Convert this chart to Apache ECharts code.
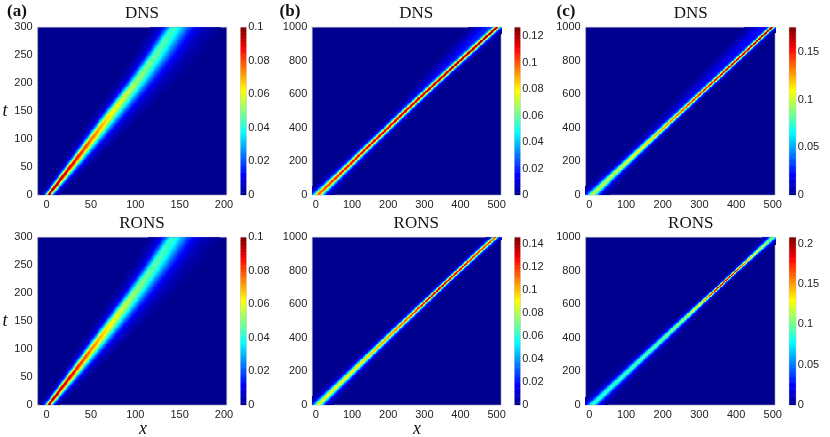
<!DOCTYPE html>
<html>
<head>
<meta charset="utf-8">
<script src="https://cdn.jsdelivr.net/npm/echarts@6/dist/echarts.min.js"></script>
<style>
  html, body { margin: 0; padding: 0; background: #fff; }
  #chart { width: 830px; height: 437px; }
</style>
</head>
<body>
<div id="chart"></div>
<script>
// jet colour map, evenly spaced stops
var jet = ['#00008F', '#0000FF', '#0080FF', '#00FFFF', '#80FF80', '#FFFF00', '#FF8000', '#FF0000', '#800000'];

var timesA = [0, 25, 50, 75, 100, 150, 200, 250, 300];
var timesBC = [0, 100, 200, 300, 400, 500, 600, 700, 800, 900, 1000];

// (a) DNS
var aDnsCenter = [2, 14, 26, 38, 50, 74, 99, 122, 143];
var aDnsPeak = [0.1, 0.097, 0.091, 0.084, 0.077, 0.063, 0.053, 0.047, 0.043];
var aDnsWidthL = [2.0, 2.2, 2.5, 2.8, 3.2, 4.0, 4.8, 5.5, 6.2];
var aDnsWidthR = [2.4, 3.3, 4.3, 5.3, 6.3, 8.3, 10, 11.5, 12.5];
// (a) RONS
var aRonsCenter = [2, 14, 26, 38, 50, 74, 98, 121, 142];
var aRonsPeak = [0.1, 0.096, 0.09, 0.083, 0.075, 0.062, 0.052, 0.046, 0.042];
var aRonsWidthL = [2.0, 2.2, 2.5, 2.9, 3.3, 4.1, 4.9, 5.7, 6.4];
var aRonsWidthR = [2.4, 3.3, 4.3, 5.3, 6.3, 8.3, 10, 11.5, 12.5];

// (b) DNS
var bDnsCenter = [5, 54, 102, 150, 199, 247, 297, 347, 398, 449, 500];
var bDnsPeak = [0.1, 0.108, 0.112, 0.115, 0.117, 0.119, 0.12, 0.121, 0.122, 0.123, 0.124];
var bDnsWidth = [9, 7.5, 6.9, 6.5, 6.2, 6.1, 5.9, 5.8, 5.8, 5.7, 5.7];
var bDnsHaloPeak = [0, 0, 0, 0, 0, 0.002, 0.006, 0.01, 0.013, 0.016, 0.018];
var bDnsHaloShift = [-15, -15, -15, -15, -18, -20, -22, -25, -28, -30, -32];
var bDnsHaloWidth = [8, 8, 8, 8, 9, 10, 11, 12, 13, 14, 15];
// (b) RONS
var bRonsCenter = [5, 53, 101, 149, 197, 246, 295, 344, 394, 444, 495];
var bRonsPeak = [0.09, 0.092, 0.095, 0.1, 0.108, 0.118, 0.13, 0.14, 0.133, 0.125, 0.12];
var bRonsWidth = [9, 8.2, 7.5, 6.9, 6.2, 5.6, 5, 4.6, 4.8, 5.1, 5.3];

// (c) DNS
var cDnsCenter = [7, 55, 104, 153, 202, 251, 300, 350, 399, 448, 497];
var cDnsPeak = [0.1, 0.102, 0.106, 0.115, 0.125, 0.138, 0.148, 0.155, 0.16, 0.166, 0.172];
var cDnsWidth = [10, 8.6, 7.4, 6.4, 5.6, 5, 4.7, 4.5, 4.3, 4.2, 4.2];
var cDnsHaloPeak = [0, 0, 0.003, 0.007, 0.01, 0.013, 0.015, 0.017, 0.019, 0.021, 0.023];
var cDnsHaloShift = [-12, -12, -14, -16, -18, -20, -22, -24, -26, -28, -30];
var cDnsHaloWidth = [7, 7, 8, 9, 10, 11, 12, 13, 14, 14, 15];
// (c) RONS
var cRonsCenter = [7, 56, 105, 154, 203, 252, 301, 351, 400, 450, 500];
var cRonsPeak = [0.088, 0.09, 0.093, 0.097, 0.102, 0.11, 0.135, 0.2, 0.18, 0.13, 0.108];
var cRonsWidth = [10, 9.3, 8.6, 7.9, 7.2, 6.3, 4.8, 3.4, 3.4, 4.8, 6.6];

// colour bar tops and tick labels
var cbarMax = [0.1, 0.1266, 0.176, 0.1, 0.146, 0.208];
var cbarTicksA = [0, 0.02, 0.04, 0.06, 0.08, 0.1];
var cbarTicksB1 = [0, 0.02, 0.04, 0.06, 0.08, 0.1, 0.12];
var cbarTicksC1 = [0, 0.05, 0.1, 0.15];
var cbarTicksB2 = [0, 0.02, 0.04, 0.06, 0.08, 0.1, 0.12, 0.14];
var cbarTicksC2 = [0, 0.05, 0.1, 0.15, 0.2];

// axis tick labels
var xTicksA = [0, 50, 100, 150, 200];
var xTicksBC = [0, 100, 200, 300, 400, 500];
var yTicksA = [0, 50, 100, 150, 200, 250, 300];
var yTicksBC = [0, 200, 400, 600, 800, 1000];

function interp(ts, vs, t) {
    if (t <= ts[0]) return vs[0];
    for (var i = 1; i < ts.length; i++) {
        if (t <= ts[i]) {
            var f = (t - ts[i - 1]) / (ts[i] - ts[i - 1]);
            return vs[i - 1] + f * (vs[i] - vs[i - 1]);
        }
    }
    return vs[vs.length - 1];
}

function sech(z) {
    return 2 / (Math.exp(z) + Math.exp(-z));
}

// grid of cells for one panel, built from the arrays above
function buildCells(p) {
    var cells = [];
    var nt = Math.round(p.tMax / p.dt);
    var nx = Math.round((p.xMax - p.xMin) / p.dx);
    for (var j = 0; j <= nt; j++) {
        var t = j * p.dt;
        var c = interp(p.times, p.center, t);
        var a = interp(p.times, p.peak, t);
        var wl = interp(p.times, p.widthL, t);
        var wr = interp(p.times, p.widthR, t);
        var ha = p.haloPeak ? interp(p.times, p.haloPeak, t) : 0;
        var hs = p.haloPeak ? interp(p.times, p.haloShift, t) : 0;
        var hw = p.haloPeak ? interp(p.times, p.haloWidth, t) : 1;
        for (var i = 0; i <= nx; i++) {
            var x = p.xMin + i * p.dx;
            var d = x - c;
            var v = a * sech(d / (d < 0 ? wl : wr));
            if (ha > 0) v += ha * sech((d - hs) / hw);
            if (v > p.vMax * 0.012) cells.push([x, t, Math.min(v, p.vMax)]);
        }
    }
    return cells;
}

var plotH = 167.7;
var panels = [
    { title: 'DNS', times: timesA, center: aDnsCenter, peak: aDnsPeak, widthL: aDnsWidthL, widthR: aDnsWidthR,
      xMin: -10, xMax: 203, tMax: 300, dx: 1, dt: 1.5, vMax: cbarMax[0], cTicks: cbarTicksA,
      xTicks: xTicksA, yTicks: yTicksA, left: 37.7, width: 189, top: 27.3, cbLeft: 240.7, cbWidth: 5.5 },
    { title: 'DNS', times: timesBC, center: bDnsCenter, peak: bDnsPeak, widthL: bDnsWidth, widthR: bDnsWidth,
      haloPeak: bDnsHaloPeak, haloShift: bDnsHaloShift, haloWidth: bDnsHaloWidth,
      xMin: -10, xMax: 512, tMax: 1000, dx: 2, dt: 5, vMax: cbarMax[1], cTicks: cbarTicksB1,
      xTicks: xTicksBC, yTicks: yTicksBC, left: 312.3, width: 188.7, top: 27.3, cbLeft: 514.7, cbWidth: 5.5 },
    { title: 'DNS', times: timesBC, center: cDnsCenter, peak: cDnsPeak, widthL: cDnsWidth, widthR: cDnsWidth,
      haloPeak: cDnsHaloPeak, haloShift: cDnsHaloShift, haloWidth: cDnsHaloWidth,
      xMin: -10, xMax: 506, tMax: 1000, dx: 2, dt: 5, vMax: cbarMax[2], cTicks: cbarTicksC1,
      xTicks: xTicksBC, yTicks: yTicksBC, left: 585.7, width: 189.3, top: 27.3, cbLeft: 789.3, cbWidth: 6.5 },
    { title: 'RONS', times: timesA, center: aRonsCenter, peak: aRonsPeak, widthL: aRonsWidthL, widthR: aRonsWidthR,
      xMin: -10, xMax: 203, tMax: 300, dx: 1, dt: 1.5, vMax: cbarMax[3], cTicks: cbarTicksA,
      xTicks: xTicksA, yTicks: yTicksA, left: 37.7, width: 189, top: 237.3, cbLeft: 240.7, cbWidth: 5.5 },
    { title: 'RONS', times: timesBC, center: bRonsCenter, peak: bRonsPeak, widthL: bRonsWidth, widthR: bRonsWidth,
      xMin: -10, xMax: 512, tMax: 1000, dx: 2, dt: 5, vMax: cbarMax[4], cTicks: cbarTicksB2,
      xTicks: xTicksBC, yTicks: yTicksBC, left: 312.3, width: 188.7, top: 237.3, cbLeft: 514.7, cbWidth: 5.5 },
    { title: 'RONS', times: timesBC, center: cRonsCenter, peak: cRonsPeak, widthL: cRonsWidth, widthR: cRonsWidth,
      xMin: -10, xMax: 506, tMax: 1000, dx: 2, dt: 5, vMax: cbarMax[5], cTicks: cbarTicksC2,
      xTicks: xTicksBC, yTicks: yTicksBC, left: 585.7, width: 189.3, top: 237.3, cbLeft: 789.3, cbWidth: 6.5 }
];

var labelFont = { fontFamily: 'Liberation Sans', fontSize: 11, color: '#222' };
var frame = '#9a9aaa';
var plainNumber = function (v) { return String(+(+v).toFixed(3)); };

// cells snapped to whole pixels so thin bands keep their colour
function cellRenderer(dx, dt) {
    return function (params, api) {
        var x = api.value(0), t = api.value(1);
        var p0 = api.coord([x - dx / 2, t + dt / 2]);
        var p1 = api.coord([x + dx / 2, t - dt / 2]);
        var x0 = Math.round(p0[0]), x1 = Math.max(Math.round(p1[0]), x0 + 1);
        var y0 = Math.round(p0[1]), y1 = Math.max(Math.round(p1[1]), y0 + 1);
        return {
            type: 'rect',
            shape: { x: x0, y: y0, width: x1 - x0, height: y1 - y0 },
            style: { fill: api.visual('color') }
        };
    };
}

var grids = [], xAxes = [], yAxes = [], series = [], visualMaps = [], graphics = [];
var n = panels.length;

panels.forEach(function (p, i) {
    grids.push({ left: p.left, top: p.top, width: p.width, height: plotH, show: true,
        backgroundColor: '#00008F', borderColor: frame, borderWidth: 0.6, outerBoundsMode: 'none' });
    xAxes.push({ gridIndex: i, type: 'value', min: p.xMin, max: p.xMax,
        axisLine: { show: false }, axisTick: { show: false }, splitLine: { show: false },
        axisLabel: Object.assign({ customValues: p.xTicks, margin: 4, formatter: plainNumber }, labelFont) });
    yAxes.push({ gridIndex: i, type: 'value', min: 0, max: p.tMax,
        axisLine: { show: false }, axisTick: { show: false }, splitLine: { show: false },
        axisLabel: Object.assign({ customValues: p.yTicks, margin: 5, formatter: plainNumber }, labelFont) });
    series.push({ type: 'custom', xAxisIndex: i, yAxisIndex: i, data: buildCells(p),
        encode: { x: 0, y: 1 }, clip: true, silent: true, animation: false,
        progressive: 0, renderItem: cellRenderer(p.dx, p.dt) });
    visualMaps.push({ type: 'continuous', show: false, min: 0, max: p.vMax, dimension: 2,
        seriesIndex: [i, n + i], inRange: { color: jet } });

    // title centred over the plot and its colour bar
    graphics.push({ type: 'text', x: (p.left + p.cbLeft + p.cbWidth) / 2, y: p.top - 13.5,
        style: { text: p.title, font: '17px "Liberation Serif"', fill: '#111',
            textAlign: 'center', textVerticalAlign: 'middle' } });
});

// colour bars
panels.forEach(function (p, i) {
    var gi = n + i;
    var steps = 120, step = p.vMax / steps, stripes = [];
    for (var k = 0; k < steps; k++) {
        var v = (k + 0.5) * step;
        stripes.push([0.5, v, v]);
    }
    grids.push({ left: p.cbLeft, top: p.top, width: p.cbWidth, height: plotH, show: true,
        backgroundColor: 'transparent', borderColor: frame, borderWidth: 0.6, outerBoundsMode: 'none' });
    xAxes.push({ gridIndex: gi, type: 'value', min: 0, max: 1, show: false });
    yAxes.push({ gridIndex: gi, type: 'value', min: 0, max: p.vMax, position: 'right',
        axisLine: { show: false }, axisTick: { show: false }, splitLine: { show: false },
        axisLabel: Object.assign({ customValues: p.cTicks, margin: 2, formatter: plainNumber }, labelFont) });
    series.push({ type: 'custom', xAxisIndex: gi, yAxisIndex: gi, data: stripes,
        encode: { x: 0, y: 1 }, clip: true, silent: true, animation: false,
        renderItem: function (params, api) {
            var v = api.value(1);
            var p0 = api.coord([0, v + step / 2]);
            var p1 = api.coord([1, v - step / 2]);
            return { type: 'rect',
                shape: { x: p0[0], y: p0[1], width: p1[0] - p0[0], height: p1[1] - p0[1] + 0.6 },
                style: { fill: api.visual('color') } };
        } });
});

// panel letters and axis names
[['(a)', 17], ['(b)', 290], ['(c)', 566]].forEach(function (l) {
    graphics.push({ type: 'text', x: l[1], y: 12, style: { text: l[0], font: 'bold 17px "Liberation Serif"',
        fill: '#111', textAlign: 'center', textVerticalAlign: 'middle' } });
});
[111, 321].forEach(function (y) {
    graphics.push({ type: 'text', x: 5, y: y, style: { text: 't', font: 'italic 18px "Liberation Serif"',
        fill: '#111', textAlign: 'center', textVerticalAlign: 'middle' } });
});
[143, 417].forEach(function (x) {
    graphics.push({ type: 'text', x: x, y: 429, style: { text: 'x', font: 'italic 18px "Liberation Serif"',
        fill: '#111', textAlign: 'center', textVerticalAlign: 'middle' } });
});

var myChart = echarts.init(document.getElementById('chart'));
myChart.setOption({
    animation: false,
    backgroundColor: '#fff',
    grid: grids,
    xAxis: xAxes,
    yAxis: yAxes,
    visualMap: visualMaps,
    series: series,
    graphic: graphics
});
</script>
</body>
</html>
